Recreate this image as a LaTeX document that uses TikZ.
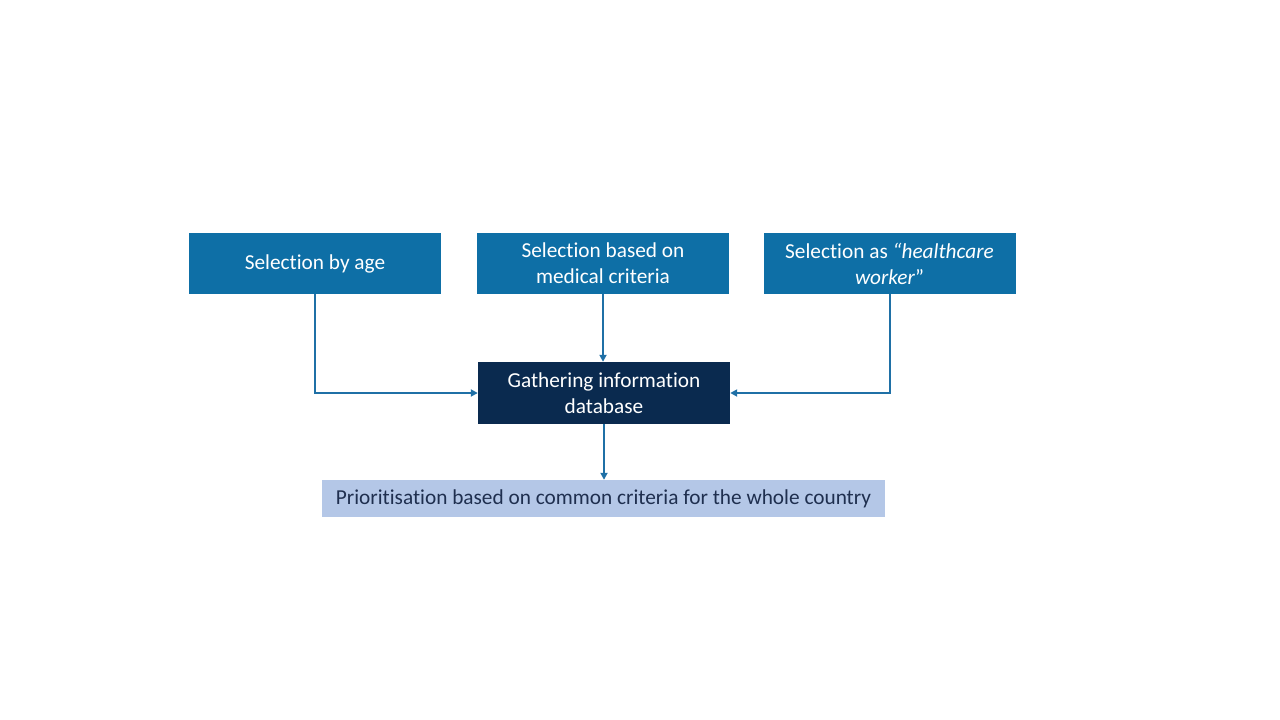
\documentclass[tikz,border=0pt]{standalone}
\usepackage{fontspec}
\setmainfont[Ligatures={NoCommon}]{Carlito}
\usetikzlibrary{arrows.meta}
\definecolor{boxblue}{HTML}{0E6FA6}
\definecolor{navy}{HTML}{0A2A4F}
\definecolor{pale}{HTML}{B4C7E7}
\definecolor{darktext}{HTML}{1F2F4F}
\definecolor{lineblue}{HTML}{1F70A6}
\begin{document}
\begin{tikzpicture}[x=1pt,y=-1pt,
  sel/.style={fill=boxblue,text=white,minimum width=252pt,minimum height=61pt,inner sep=0pt,align=center,font=\fontsize{21.3}{26}\selectfont},
  gath/.style={fill=navy,text=white,minimum width=252pt,minimum height=62pt,inner sep=0pt,align=center,font=\fontsize{21.3}{26}\selectfont},
  prio/.style={fill=pale,text=darktext,minimum width=563pt,minimum height=37pt,inner sep=0pt,align=center,font=\fontsize{21.3}{24}\selectfont},
  conn/.style={draw=lineblue,line width=2pt,-{Triangle[length=7pt,width=7pt]}}]
\useasboundingbox (0,0) rectangle (1280,720);
\node[sel] (A) at (315,263.5) {Selection by age};
\node[sel] (B) at (603,263.5) {Selection based on\\medical criteria};
\node[sel] (C) at (889.5,263.5) {Selection as \textit{``healthcare}\\\textit{worker}''};
\node[gath] (D) at (604,393) {Gathering information\\database};
\node[prio] (E) at (603.5,498.5) {Prioritisation based on common criteria for the whole country};
\draw[conn] (A.south) |- (D.west);
\draw[conn] (B.south) -- (B.south |- D.north);
\draw[conn] (C.south) |- (D.east);
\draw[conn] (D.south) -- (D.south |- E.north);
\end{tikzpicture}
\end{document}
